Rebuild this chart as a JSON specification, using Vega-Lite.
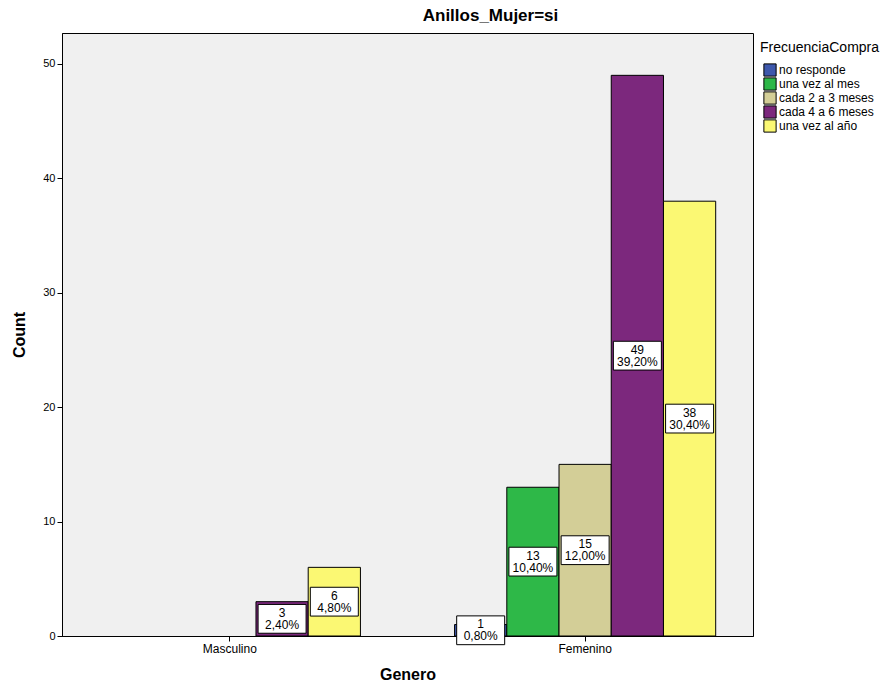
{
  "$schema": "https://vega.github.io/schema/vega-lite/v6.json",
  "width": 691,
  "height": 603,
  "autosize": {"type": "none"},
  "padding": {"left": 62, "top": 33, "right": 140, "bottom": 48},
  "background": "white",
  "config": {
    "font": "Liberation Sans",
    "view": {"fill": "#F0F0F0", "stroke": "black", "strokeWidth": 1}
  },
  "title": {
    "text": "Anillos_Mujer=si",
    "fontSize": 17,
    "fontWeight": "bold",
    "font": "Liberation Sans",
    "color": "black",
    "anchor": "middle",
    "frame": "group",
    "dx": 83,
    "offset": 8
  },
  "data": {
    "values": [
      {"Genero": "Masculino", "FrecuenciaCompra": "cada 4 a 6 meses", "count": 3, "label": "3\n2,40%"},
      {"Genero": "Masculino", "FrecuenciaCompra": "una vez al año", "count": 6, "label": "6\n4,80%"},
      {"Genero": "Femenino", "FrecuenciaCompra": "no responde", "count": 1, "label": "1\n0,80%"},
      {"Genero": "Femenino", "FrecuenciaCompra": "una vez al mes", "count": 13, "label": "13\n10,40%"},
      {"Genero": "Femenino", "FrecuenciaCompra": "cada 2 a 3 meses", "count": 15, "label": "15\n12,00%"},
      {"Genero": "Femenino", "FrecuenciaCompra": "cada 4 a 6 meses", "count": 49, "label": "49\n39,20%"},
      {"Genero": "Femenino", "FrecuenciaCompra": "una vez al año", "count": 38, "label": "38\n30,40%"}
    ]
  },
  "transform": [{"calculate": "datum.count / 2", "as": "mid"}],
  "encoding": {
    "x": {
      "field": "Genero",
      "type": "nominal",
      "sort": ["Masculino", "Femenino"],
      "scale": {"paddingInner": 0.265, "paddingOuter": 0.105},
      "axis": {
        "title": "Genero",
        "titleFontSize": 16,
        "titleFontWeight": "bold",
        "titleColor": "black",
        "titlePadding": 12,
        "labelAngle": 0,
        "labelFontSize": 12,
        "labelColor": "black",
        "labelPadding": 2,
        "tickColor": "black",
        "tickSize": 5,
        "domainColor": "black"
      }
    },
    "xOffset": {
      "field": "FrecuenciaCompra",
      "type": "nominal",
      "scale": {
        "domain": ["no responde", "una vez al mes", "cada 2 a 3 meses", "cada 4 a 6 meses", "una vez al año"],
        "paddingInner": 0,
        "paddingOuter": 0
      }
    }
  },
  "layer": [
    {
      "mark": {"type": "bar", "stroke": "black", "strokeWidth": 1},
      "encoding": {
        "y": {
          "field": "count",
          "type": "quantitative",
          "scale": {"domain": [0, 52.7], "nice": false},
          "axis": {
            "title": "Count",
            "titleFontSize": 16,
            "titleFontWeight": "bold",
            "titleColor": "black",
            "titlePadding": 15,
            "values": [0, 10, 20, 30, 40, 50],
            "grid": false,
            "labelFontSize": 11,
            "labelColor": "black",
            "labelPadding": 2,
            "tickColor": "black",
            "tickSize": 5,
            "domainColor": "black"
          }
        },
        "color": {
          "field": "FrecuenciaCompra",
          "type": "nominal",
          "scale": {
            "domain": ["no responde", "una vez al mes", "cada 2 a 3 meses", "cada 4 a 6 meses", "una vez al año"],
            "range": ["#3E58AC", "#2EB848", "#D3CE97", "#7C287D", "#FBF873"]
          },
          "legend": {
            "orient": "none",
            "legendX": 698,
            "legendY": 8,
            "title": "FrecuenciaCompra",
            "titleFontSize": 14,
            "titleFontWeight": "normal",
            "titleColor": "black",
            "titlePadding": 8,
            "labelFontSize": 12,
            "labelColor": "black",
            "labelOffset": 2,
            "symbolType": "square",
            "symbolSize": 150,
            "symbolOffset": 3,
            "symbolStrokeColor": "black",
            "symbolStrokeWidth": 1,
            "symbolOpacity": 1,
            "clipHeight": 14,
            "rowPadding": 0,
            "padding": 0
          }
        }
      }
    },
    {
      "mark": {
        "type": "point",
        "shape": "M-1,-0.6H1V0.6H-1Z",
        "size": 2304,
        "filled": true,
        "fill": "white",
        "stroke": "black",
        "strokeWidth": 1,
        "opacity": 1
      },
      "encoding": {
        "y": {"field": "mid", "type": "quantitative"}
      }
    },
    {
      "mark": {
        "type": "text",
        "fontSize": 12,
        "color": "black",
        "lineBreak": "\n",
        "lineHeight": 12,
        "baseline": "middle",
        "align": "center",
        "dy": -6
      },
      "encoding": {
        "y": {"field": "mid", "type": "quantitative"},
        "text": {"field": "label", "type": "nominal"}
      }
    }
  ]
}
